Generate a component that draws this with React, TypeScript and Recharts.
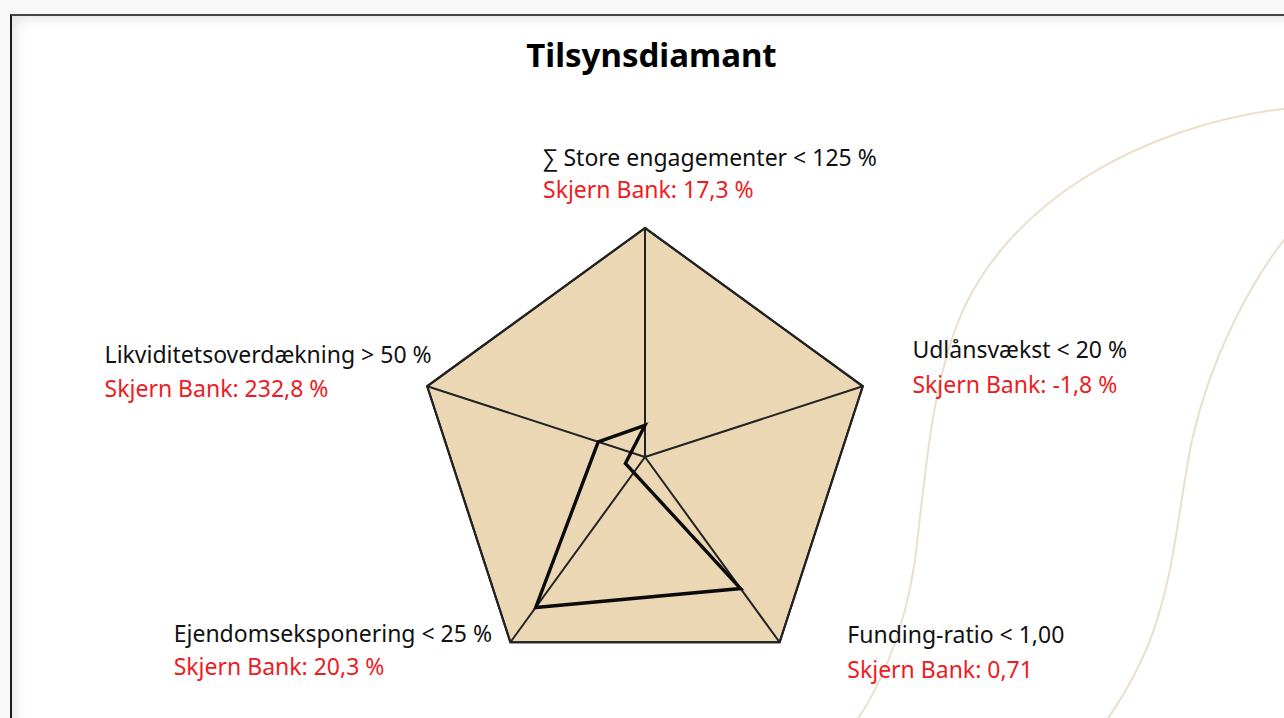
import React from 'react';
import { RadarChart, Radar, PolarGrid, PolarAngleAxis, PolarRadiusAxis } from 'recharts';

// ---- data ----
const categories = ['∑ Store engagementer', 'Udlånsvækst', 'Funding-ratio', 'Ejendomseksponering', 'Likviditetsoverdækning'];
const limitLabels = ['<  125 %', '< 20 %', '<  1,00', '< 25 %', '> 50 %'];
const limits = [125, 20, 1.0, 25, 50];
const bankValues = [17.3, -1.8, 0.71, 20.3, 232.8];
const bankValueLabels = ['17,3 %', '-1,8 %', '0,71', '20,3 %', '232,8 %'];
const limitIsMinimum = [false, false, false, false, true];
const bankName = 'Skjern Bank';
const title = 'Tilsynsdiamant';

const data = categories.map((c, i) => ({
  axis: c,
  limit: 1,
  bank: limitIsMinimum[i] ? limits[i] / bankValues[i] : bankValues[i] / limits[i],
}));

// ---- layout / style ----
const FONT = '"Noto Sans", "Open Sans", "DejaVu Sans", sans-serif';
const LABEL_OFFSETS = [
  { dx: -102, dy1: -54, dy2: -22 },
  { dx: 42, dy1: -26, dy2: 9 },
  { dx: 63, dy1: -6, dy2: 29 },
  { dx: -332, dy1: -7, dy2: 26 },
  { dx: -315, dy1: -21, dy2: 13 },
];

function AxisLabel(props: any) {
  const { x, y, index } = props;
  const o = LABEL_OFFSETS[index] || { dx: 0, dy1: 0, dy2: 0 };
  return (
    <g>
      <text x={x + o.dx} y={y + o.dy1} textAnchor="start" fill="#111" fontSize={23} fontFamily={FONT}>
        {`${categories[index]} ${limitLabels[index]}`}
      </text>
      <text x={x + o.dx} y={y + o.dy2} textAnchor="start" fill="#ed1c24" fontSize={23} fontFamily={FONT}>
        {`${bankName}: ${bankValueLabels[index]}`}
      </text>
    </g>
  );
}

const chartProps = {
  width: 1284,
  height: 718,
  cx: 645,
  cy: 457,
  outerRadius: 229,
  data,
  margin: { top: 0, right: 0, bottom: 0, left: 0 },
};

export default function App() {
  return (
    <div style={{ position: 'absolute', left: 0, top: 0, width: 1284, height: 718, overflow: 'hidden', background: '#f8f8f8' }}>
      <div
        style={{
          position: 'absolute', left: 10, top: 14, width: 1300, height: 720,
          background: '#fff', borderTop: '2px solid #444', borderLeft: '2px solid #1c1c1c',
          boxShadow: 'inset 10px 10px 14px -8px rgba(0,0,0,0.13)',
        }}
      />
      <svg width={1284} height={718} style={{ position: 'absolute', left: 0, top: 0 }}>
        <path d="M1290,108 C1140,125 1000,205 955,330 C930,400 925,480 915,560 C905,630 880,690 850,730" fill="none" stroke="#ebdfca" strokeWidth={2} />
        <path d="M1292,230 C1250,280 1210,360 1192,440 C1180,500 1175,560 1160,610 C1148,655 1125,695 1100,730" fill="none" stroke="#ebdfca" strokeWidth={2} />
        <text x={651.5} y={67} textAnchor="middle" fontFamily={FONT} fontWeight={700} fontSize={33} fill="#000">{title}</text>
      </svg>
      <div style={{ position: 'absolute', left: 0, top: 0 }}>
        <RadarChart {...chartProps}>
          <PolarRadiusAxis type="number" domain={[0, 1]} allowDataOverflow tick={false} axisLine={false} />
          <PolarAngleAxis dataKey="axis" tick={false} tickLine={false} axisLine={false} />
          <Radar dataKey="limit" isAnimationActive={false} fill="#ecd7b5" fillOpacity={1} stroke="#2a2a2a" strokeWidth={2.2} strokeLinejoin="miter" />
        </RadarChart>
      </div>
      <div style={{ position: 'absolute', left: 0, top: 0 }}>
        <RadarChart {...chartProps}>
          <PolarRadiusAxis type="number" domain={[0, 1]} allowDataOverflow tick={false} axisLine={false} />
          <PolarAngleAxis dataKey="axis" tickLine={false} axisLine={false} tick={<AxisLabel />} />
          <PolarGrid gridType="polygon" polarRadius={[229]} stroke="#222" strokeWidth={2} />
          <Radar dataKey="bank" isAnimationActive={false} fill="none" fillOpacity={0} stroke="#0a0a0a" strokeWidth={3.4} strokeLinejoin="miter" />
        </RadarChart>
      </div>
    </div>
  );
}
